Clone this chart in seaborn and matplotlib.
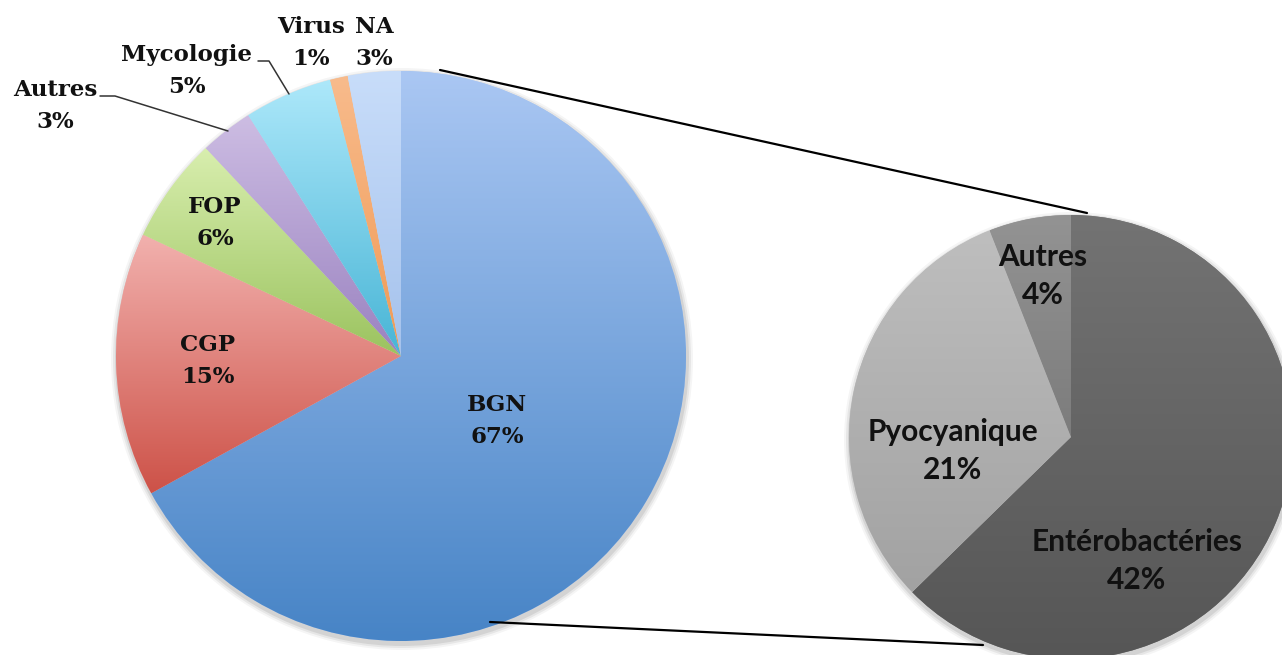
import numpy as np
import seaborn as sns
import matplotlib.pyplot as plt
from matplotlib.colors import LinearSegmentedColormap
from matplotlib.patches import Circle

# main pie
main_labels = ["BGN", "CGP", "FOP", "Autres", "Mycologie", "Virus", "NA"]
main_values = [67, 15, 6, 3, 5, 1, 3]
main_top = ["#aac7f3", "#f2b1ae", "#d8eeae", "#cdbde3", "#ade8fa", "#f8bb8c", "#c8ddfa"]
main_bottom = ["#4784c6", "#cd5248", "#9bc35f", "#9a82c0", "#48b5d6", "#f09a55", "#a5c2ec"]

# detail of BGN
sub_labels = ["Entérobactéries", "Pyocyanique", "Autres"]
sub_values = [42, 21, 4]
sub_top = ["#737373", "#bebebe", "#939393"]
sub_bottom = ["#565656", "#a2a2a2", "#7c7c7c"]

W, H = 1282, 655

sns.set_theme(style="white")
fig = plt.figure(figsize=(W / 100, H / 100), dpi=100)
ax = fig.add_axes([0, 0, 1, 1])


def py(y):
    # pixel row -> data y
    return H - y


def gradient_pie(values, tops, bottoms, center, radius):
    wedges, _ = ax.pie(values, center=center, radius=radius, startangle=90,
                       counterclock=False, colors=tops,
                       wedgeprops=dict(linewidth=0))
    grad = np.linspace(1, 0, 256).reshape(-1, 1)
    for w, c0, c1 in zip(wedges, tops, bottoms):
        ext = w.get_path().get_extents()
        cmap = LinearSegmentedColormap.from_list("g", [c1, c0])
        im = ax.imshow(grad, cmap=cmap, aspect="auto", origin="upper",
                       extent=(ext.x0, ext.x1, ext.y0, ext.y1), zorder=2,
                       interpolation="bicubic")
        im.set_clip_path(w)
    return wedges


# soft shadows
for cx, cy, r in [(401, py(356), 285), (1071, py(437), 222)]:
    for k, a in [(6, 0.04), (4, 0.06), (2, 0.08)]:
        ax.add_patch(Circle((cx + 1, cy - 3), r + k, color="#000000", alpha=a,
                            lw=0, zorder=0))

gradient_pie(main_values, main_top, main_bottom, (401, py(356)), 285)
gradient_pie(sub_values, sub_top, sub_bottom, (1071, py(437)), 222)

# connector lines
ax.plot([440, 1087], [py(70), py(213)], color="black", lw=1.6, zorder=3)
ax.plot([490, 983], [py(622), py(645)], color="black", lw=1.6, zorder=3)

# leader lines
ax.plot([100, 115, 228], [py(96), py(96), py(131)], color="#333333", lw=1.1, zorder=3)
ax.plot([258, 269, 289], [py(61), py(61), py(94)], color="#333333", lw=1.1, zorder=3)

serif = dict(family="DejaVu Serif", weight="bold", fontsize=16.5, color="#111111",
             ha="center", va="center", linespacing=1.6, zorder=4)
main_pos = [(497, 421), (208, 361), (215, 223), (55, 106), (187, 71), (311, 43), (374, 43)]
for lab, v, (x, y) in zip(main_labels, main_values, main_pos):
    ax.text(x, py(y), f"{lab}\n{v}%", **serif)

sans = dict(family="Lato", weight="bold", fontsize=21.5, color="#111111",
            ha="center", va="center", linespacing=1.4, zorder=4)
sub_pos = [(1137, 561), (953, 451), (1043, 276)]
for lab, v, (x, y) in zip(sub_labels, sub_values, sub_pos):
    ax.text(x, py(y), f"{lab}\n{v}%", **sans)

ax.set_xlim(0, W)
ax.set_ylim(0, H)
ax.set_aspect("equal", adjustable="box")
ax.axis("off")

fig.savefig("out.png", dpi=100)
